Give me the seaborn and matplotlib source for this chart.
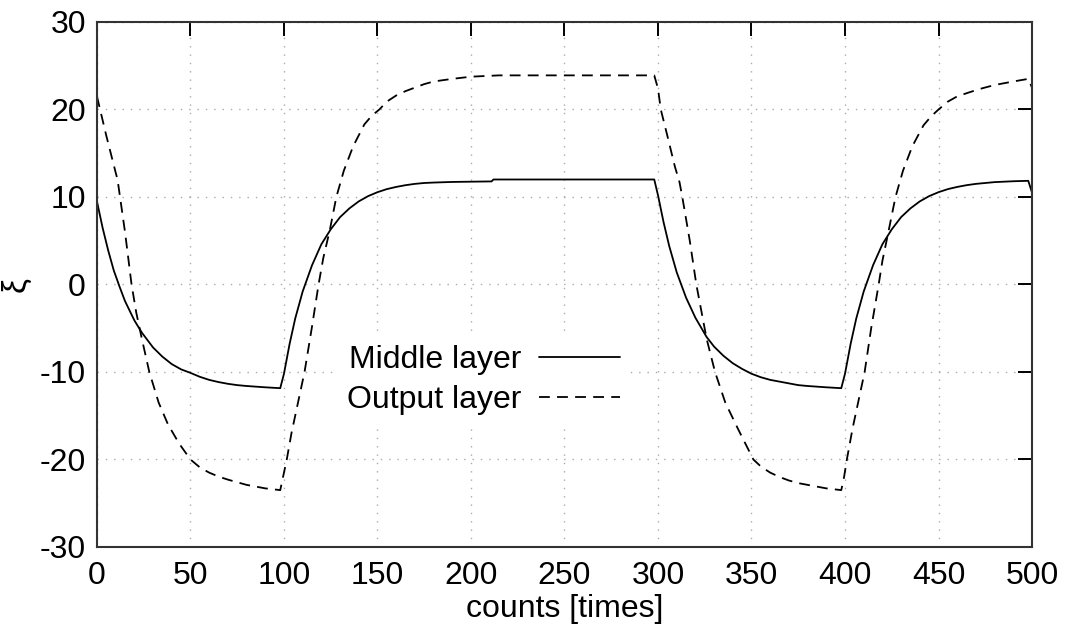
import matplotlib
matplotlib.use('Agg')
import pandas as pd
import matplotlib.pyplot as plt
import seaborn as sns

# values
mid_t = [0, 3, 6, 9, 12, 15, 20, 24, 30, 35, 40, 45, 50, 55, 60, 65, 70, 75, 80, 90, 98,
         100, 103, 106, 110, 115, 120, 125, 130, 135, 140, 145, 150, 155, 160, 165, 170, 175, 180, 190, 200, 211, 212, 250, 298,
         300, 303, 306, 310, 315, 320, 326, 330, 335, 340, 345, 350, 355, 360, 365, 370, 375, 380, 390, 398,
         400, 403, 406, 410, 415, 420, 425, 430, 435, 440, 445, 450, 455, 460, 465, 470, 475, 480, 490, 498, 500]
mid_v = [9.5, 6.5, 3.9, 1.6, -0.2, -1.9, -4.1, -5.5, -7.2, -8.25, -9.1, -9.7, -10.1, -10.55, -10.9, -11.15, -11.35, -11.5, -11.6, -11.75, -11.85,
         -10.2, -6.8, -3.9, -0.8, 2.2, 4.6, 6.3, 7.7, 8.7, 9.5, 10.1, 10.55, 10.9, 11.15, 11.35, 11.5, 11.6, 11.65, 11.72, 11.75, 11.78, 12.0, 12.0, 12.0,
         10.2, 7.1, 4.4, 1.4, -1.5, -3.8, -6.0, -7.1, -8.15, -9.0, -9.65, -10.2, -10.6, -10.9, -11.1, -11.3, -11.5, -11.6, -11.75, -11.85,
         -10.2, -6.8, -3.9, -0.8, 2.2, 4.6, 6.3, 7.7, 8.7, 9.5, 10.1, 10.55, 10.9, 11.15, 11.35, 11.5, 11.6, 11.7, 11.8, 11.85, 10.5]

out_t = [0, 5, 10, 11, 13, 15, 18.5, 21, 24, 28, 33, 38, 44, 50, 55, 60, 65, 70, 75, 80, 85, 90, 98,
         99.5, 101.5, 104, 107, 111, 115, 118.5, 121, 124.5, 128, 132, 137, 143, 147, 151, 155, 160, 165, 170, 175, 180, 185, 190, 200, 215, 250, 298,
         300, 301.5, 305, 309, 311.5, 313, 317, 320.5, 326, 330.5, 336, 343, 351, 355, 360, 365, 370, 375, 380, 385, 390, 398,
         399.5, 401, 404, 407, 410.5, 414, 418, 420, 423, 427, 431, 436, 442, 446, 450, 455, 460, 467, 473, 480, 490, 498, 500]
out_v = [21.5, 17, 12.8, 12, 9, 6, 0, -3.2, -6.2, -10, -13.5, -16, -18.2, -20, -20.9, -21.5, -21.95, -22.3, -22.6, -22.9, -23.1, -23.3, -23.5,
         -22, -20, -17, -14, -10, -4.8, 0, 3, 6.2, 10, 13, 15.8, 18.3, 19.3, 20, 20.9, 21.6, 22.1, 22.5, 22.9, 23.2, 23.35, 23.5, 23.75, 23.9, 23.9, 23.9,
         22.4, 20, 17, 13.5, 11.7, 10, 5, 0, -6.2, -10, -13.5, -16.6, -20, -20.8, -21.5, -22.0, -22.4, -22.7, -22.9, -23.1, -23.3, -23.5,
         -22, -20, -16.5, -13.5, -10, -5, 0, 2.7, 5.8, 10, 13, 15.8, 18.2, 19.2, 20, 20.9, 21.5, 22.0, 22.4, 22.8, 23.2, 23.5, 22.5]

x_ticks = list(range(0, 501, 50))
y_ticks = list(range(-30, 31, 10))

sns.set_theme(style='white')
plt.rcParams['font.family'] = ['Liberation Sans', 'DejaVu Sans']
plt.rcParams['axes.unicode_minus'] = False
plt.rcParams['text.color'] = 'black'
plt.rcParams['axes.labelcolor'] = 'black'

mid = pd.DataFrame({'t': mid_t, 'v': mid_v})
out = pd.DataFrame({'t': out_t, 'v': out_v})

fig = plt.figure(figsize=(10.69, 6.32), dpi=100)
ax = fig.add_axes([0.0907, 0.1345, 0.8747, 0.8307])

sns.lineplot(data=mid, x='t', y='v', color='black', lw=1.3, label='Middle layer',
             estimator=None, sort=False, ax=ax)
sns.lineplot(data=out, x='t', y='v', color='black', lw=1.3, linestyle=(0, (6, 4)),
             label='Output layer', estimator=None, sort=False, ax=ax)

ax.set_xlim(0, 500)
ax.set_ylim(-30, 30)
ax.set_xticks(x_ticks)
ax.set_yticks(y_ticks)
ax.grid(True, color='#aaaaaa', linestyle=(0, (1, 5)), lw=1)
ax.tick_params(direction='in', length=10, width=1.4, top=True, right=True,
               labelsize=23, pad=8, colors='black')
ax.tick_params(axis='x', pad=10)
for s in ax.spines.values():
    s.set_color('#333333')
    s.set_linewidth(1.5)

ax.set_xlabel('counts [times]', fontsize=23, labelpad=2)
ax.set_ylabel('ξ', fontsize=24, labelpad=6)

leg = ax.legend(loc='center right', bbox_to_anchor=(0.587, 0.318), markerfirst=False,
                frameon=True, framealpha=1, edgecolor='none', fancybox=False,
                handlelength=2.55, fontsize=23, labelspacing=0.3, handletextpad=0.55,
                borderpad=0.3)
for txt in leg.get_texts():
    txt.set_color('black')

fig.savefig('out.png', dpi=100)
